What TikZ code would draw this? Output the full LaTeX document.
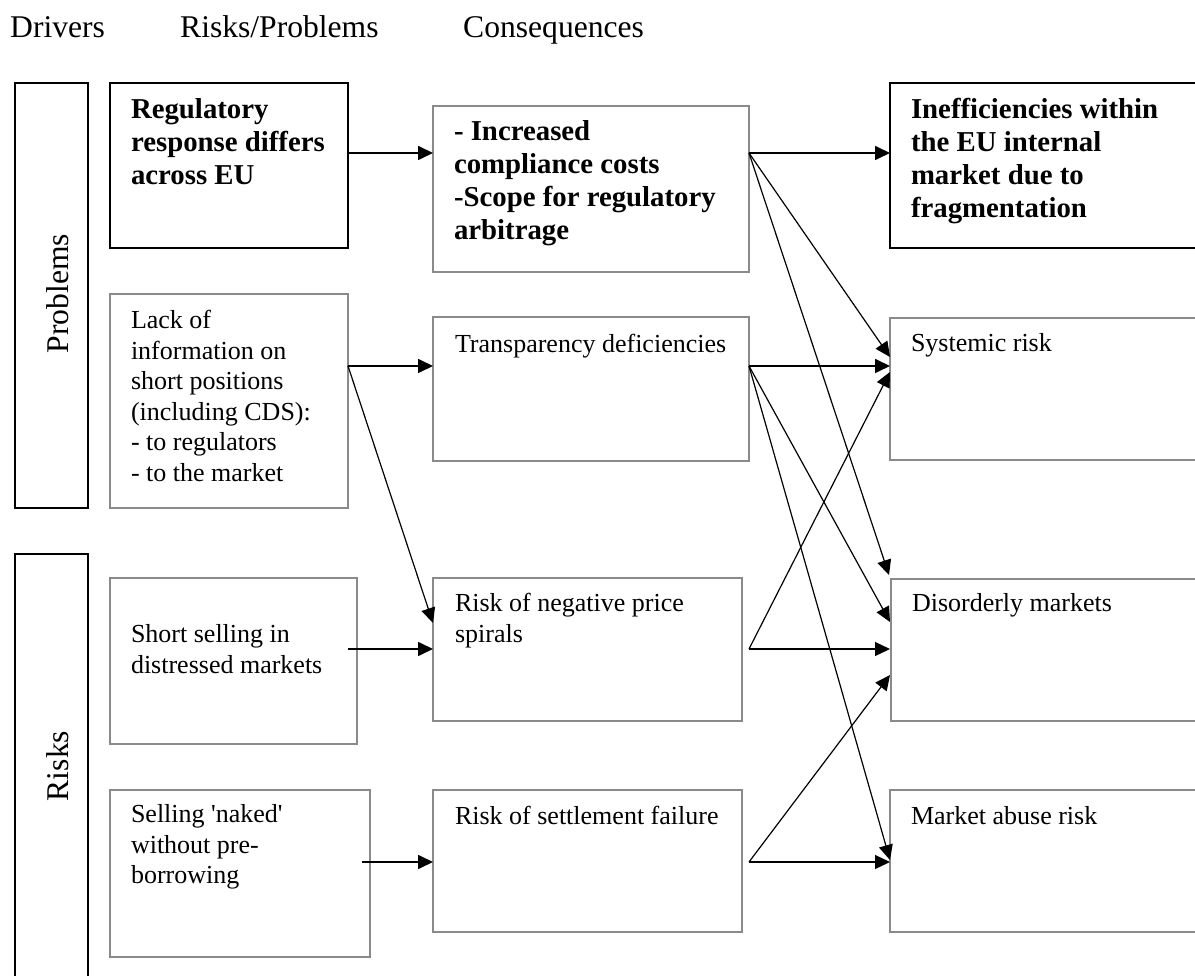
\documentclass[tikz,border=0pt]{standalone}
\usepackage{fontspec}
\setmainfont{Liberation Serif}
\usetikzlibrary{arrows.meta}
\definecolor{boxgray}{HTML}{8A8A8A}
\tikzset{
  bx/.style={draw=boxgray, line width=1.5pt, anchor=north west, inner sep=0pt, outer sep=0pt},
  bxbold/.style={draw=black, line width=2pt, anchor=north west, inner sep=0pt, outer sep=0pt},
  bar/.style={draw=black, line width=1.6pt, anchor=north west, inner sep=0pt, outer sep=0pt},
  txt/.style={anchor=north west, inner sep=0pt, outer sep=0pt, align=left, font=\fontsize{26}{30.5}\selectfont},
  btxt/.style={anchor=north west, inner sep=0pt, outer sep=0pt, align=left, font=\fontsize{28.8}{33.3}\selectfont\bfseries},
  head/.style={anchor=base west, inner sep=0pt, font=\fontsize{31.6}{36}\selectfont},
  side/.style={anchor=base, inner sep=0pt, rotate=90, font=\fontsize{31.6}{36}\selectfont},
  arr/.style={-{Triangle[length=15pt,width=14pt]}, line width=1.2pt, black},
  harr/.style={-{Triangle[length=15pt,width=14pt]}, line width=1.7pt, black}
}
\begin{document}
\begin{tikzpicture}[x=1pt,y=-1pt]
\useasboundingbox (0,0) rectangle (1195,976);
% headers
\node[head] (h1) at (10,38) {Drivers};
\node[head] (h2) at (180,38) {Risks/Problems};
\node[head] (h3) at (463,38) {Consequences};
% side bars
\node[bar, minimum width=73pt, minimum height=425pt] (P) at (15,83) {};
\node[bar, minimum width=73pt, minimum height=460pt] (R) at (15,554) {};
\node[side] (Pl) at (68,293.5) {Problems};
\node[side] (Rl) at (68,766) {Risks};
% boxes
\node[bxbold, minimum width=238pt, minimum height=165pt] (A) at (110,83) {};
\node[bx, minimum width=316pt, minimum height=166pt] (B) at (433,106) {};
\node[bxbold, minimum width=330pt, minimum height=165pt] (C) at (890,83) {};
\node[bx, minimum width=238pt, minimum height=214pt] (L) at (110,294) {};
\node[bx, minimum width=316pt, minimum height=144pt] (T) at (433,317) {};
\node[bx, minimum width=330pt, minimum height=142pt] (S) at (890,318) {};
\node[bx, minimum width=247pt, minimum height=166pt] (Sh) at (110,578) {};
\node[bx, minimum width=309pt, minimum height=143pt] (Sp) at (433,578) {};
\node[bx, minimum width=330pt, minimum height=142pt] (D) at (891,579) {};
\node[bx, minimum width=260pt, minimum height=167pt] (N) at (110,790) {};
\node[bx, minimum width=309pt, minimum height=142pt] (St) at (433,790) {};
\node[bx, minimum width=330pt, minimum height=142pt] (M) at (890,790) {};
% texts
\node[btxt] (tA) at (131,94.7) {\strut Regulatory\\response differs\\across EU};
\node[btxt] (tB) at (454,116.7) {\strut - Increased\\compliance costs\\-Scope for regulatory\\arbitrage};
\node[btxt] (tC) at (911,94.7) {\strut Inefficiencies within\\the EU internal\\market due to\\fragmentation};
\node[txt] (tL) at (131,307.6) {\strut Lack of\\information on\\short positions\\(including CDS):\\- to regulators\\- to the market};
\node[txt] (tT) at (455,331.6) {\strut Transparency deficiencies};
\node[txt] (tS) at (911,330.6) {\strut Systemic risk};
\node[txt] (tSh) at (131,621.6) {\strut Short selling in\\distressed markets};
\node[txt] (tSp) at (455,590.6) {\strut Risk of negative price\\spirals};
\node[txt] (tD) at (912,590.6) {\strut Disorderly markets};
\node[txt] (tN) at (131,801.6) {\strut Selling \textquotesingle naked\textquotesingle\\without pre-\\borrowing};
\node[txt] (tSt) at (455,803.6) {\strut Risk of settlement failure};
\node[txt] (tM) at (911,803.6) {\strut Market abuse risk};
% connectors
\draw[harr] ([yshift=-70pt]A.north east) -- ([yshift=-47pt]B.north west);
\draw[harr] ([yshift=-47pt]B.north east) -- ([yshift=-70pt]C.north west);
\draw[arr] ([yshift=-47pt]B.north east) -- ([yshift=-39pt]S.north west);
\draw[arr] ([yshift=-47pt]B.north east) -- ([xshift=-2pt,yshift=4pt]D.north west);
\draw[harr] ([yshift=-72pt]L.north east) -- ([yshift=-49pt]T.north west);
\draw[arr] ([yshift=-72pt]L.north east) -- ([yshift=-45pt]Sp.north west);
\draw[harr] ([yshift=-49pt]T.north east) -- ([yshift=-48pt]S.north west);
\draw[arr] ([yshift=-49pt]T.north east) -- ([xshift=-1pt,yshift=-43pt]D.north west);
\draw[arr] ([yshift=-49pt]T.north east) -- ([yshift=-70pt]M.north west);
\draw[harr] ([xshift=-9pt,yshift=-71pt]Sh.north east) -- ([yshift=-71pt]Sp.north west);
\draw[arr] ([xshift=7pt,yshift=-71pt]Sp.north east) -- ([xshift=-1pt,yshift=-70pt]D.north west);
\draw[arr] ([xshift=7pt,yshift=-71pt]Sp.north east) -- ([yshift=-54pt]S.north west);
\draw[harr] ([xshift=-8pt,yshift=-72pt]N.north east) -- ([yshift=-72pt]St.north west);
\draw[arr] ([xshift=7pt,yshift=-72pt]St.north east) -- ([yshift=-72pt]M.north west);
\draw[arr] ([xshift=7pt,yshift=-72pt]St.north east) -- ([xshift=-1pt,yshift=-96pt]D.north west);
\end{tikzpicture}
\end{document}
